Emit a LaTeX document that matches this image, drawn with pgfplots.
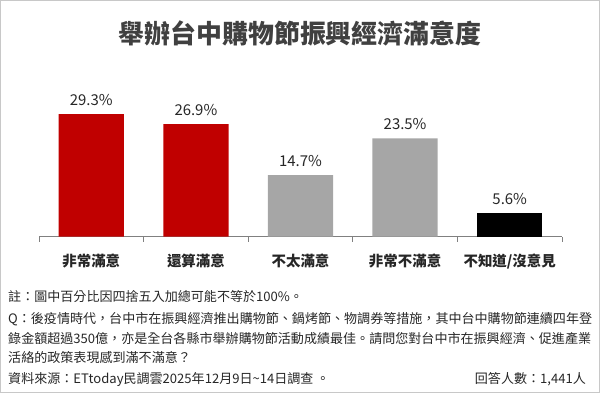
\documentclass[border=0pt]{standalone}
\usepackage{fontspec}
\setmainfont{Noto Sans CJK TC}
\usepackage{pgfplots}
\pgfplotsset{compat=1.18}
\definecolor{barred}{HTML}{C00000}
\definecolor{bargray}{HTML}{A6A6A6}
\definecolor{axgray}{HTML}{808080}
\definecolor{titlegray}{HTML}{404040}
\definecolor{txt}{HTML}{262626}
\definecolor{framec}{HTML}{C8C8C8}
\begin{document}
\begin{tikzpicture}[x=1bp,y=1bp]
\path[use as bounding box] (0,0) rectangle (600,393);
\draw[framec, line width=1bp] (0.5,0.5) rectangle (599.5,392.5);
\node[font=\fontsize{26}{30}\selectfont\bfseries, text=titlegray] at (300,360) {舉辦台中購物節振興經濟滿意度};
\begin{axis}[
  at={(39bp,156.3bp)}, anchor=south west,
  scale only axis, width=523bp, height=150.5bp,
  xmin=-0.5, xmax=4.5, ymin=0, ymax=36,
  axis x line*=bottom, axis y line=none,
  xtick={0,1,2,3,4},
  xticklabels={非常滿意,還算滿意,不太滿意,非常不滿意,不知道/沒意見},
  major tick length=0pt,
  minor xtick={-0.5,0.5,1.5,2.5,3.5,4.5},
  minor tick length=5bp,
  tick align=outside,
  tick style={axgray, line width=1bp},
  axis line style={axgray, line width=1bp},
  xticklabel style={font=\fontsize{14.5}{17}\selectfont\bfseries, text=txt, anchor=base, yshift=-29.8bp},
  ybar, bar width=0.624, bar shift=0pt,
  /pgf/number format/assume math mode=true,
  nodes near coords={\pgfmathprintnumber[fixed,fixed zerofill,precision=1]{\pgfplotspointmeta}\%},
  nodes near coords style={font=\fontsize{15}{18}\selectfont, text=txt, anchor=base, yshift=8.6bp},
  clip=false,
]
\addplot[fill=barred, draw=none] coordinates {(0,29.3) (1,26.9)};
\addplot[fill=bargray, draw=none] coordinates {(2,14.7) (3,23.5)};
\addplot[fill=black, draw=none] coordinates {(4,5.6)};
\end{axis}
\begin{scope}[every node/.style={font=\fontsize{13.1}{15}\selectfont, text=txt, inner sep=0pt}]
\node[anchor=base west] at (8,92) {註：圖中百分比因四捨五入加總可能不等於100\%。};
\node[anchor=base west] at (8,70) {Q：後疫情時代，台中市在振興經濟推出購物節、鍋烤節、物調券等措施，其中台中購物節連續四年登};
\node[anchor=base west] at (8,50) {錄金額超過350億，亦是全台各縣市舉辦購物節活動成績最佳。請問您對台中市在振興經濟、促進產業};
\node[anchor=base west] at (8,30.5) {活絡的政策表現感到滿不滿意？};
\node[anchor=base west] at (8,10) {資料來源：ETtoday民調雲2025年12月9日\textasciitilde 14日調查 。};
\node[anchor=base east] at (586,10) {回答人數：1,441人};
\end{scope}
\end{tikzpicture}
\end{document}
